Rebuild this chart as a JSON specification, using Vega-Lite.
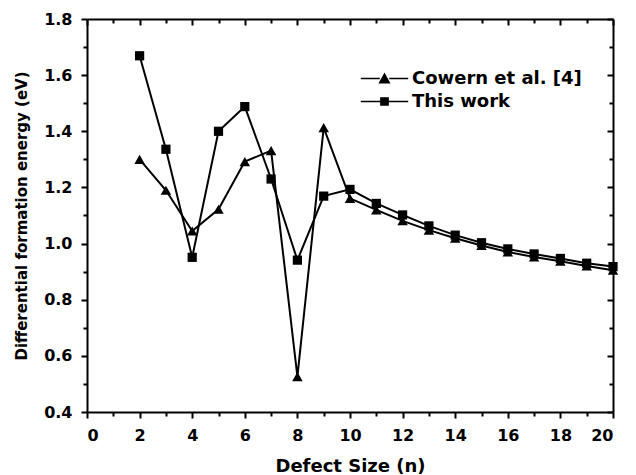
{
  "$schema": "https://vega.github.io/schema/vega-lite/v6.json",
  "autosize": "none",
  "width": 526,
  "height": 393,
  "padding": {"left": 87, "top": 19, "right": 23, "bottom": 63},
  "background": "white",
  "config": {
    "view": {"stroke": null},
    "font": "DejaVu Sans",
    "axis": {
      "domainColor": "black", "domainWidth": 2, "tickColor": "black", "tickWidth": 2, "grid": false,
      "labelFont": "DejaVu Sans", "labelFontWeight": "bold", "labelFontSize": 16, "labelColor": "black",
      "titleFont": "DejaVu Sans", "titleFontWeight": "bold", "titleFontSize": 18, "titleColor": "black"
    }
  },
  "data": {"values": [
    {"series": "Cowern et al. [4]", "n": 2, "energy": 1.30},
    {"series": "Cowern et al. [4]", "n": 3, "energy": 1.19},
    {"series": "Cowern et al. [4]", "n": 4, "energy": 1.045},
    {"series": "Cowern et al. [4]", "n": 5, "energy": 1.122},
    {"series": "Cowern et al. [4]", "n": 6, "energy": 1.292},
    {"series": "Cowern et al. [4]", "n": 7, "energy": 1.331},
    {"series": "Cowern et al. [4]", "n": 8, "energy": 0.526},
    {"series": "Cowern et al. [4]", "n": 9, "energy": 1.413},
    {"series": "Cowern et al. [4]", "n": 10, "energy": 1.161},
    {"series": "Cowern et al. [4]", "n": 11, "energy": 1.12},
    {"series": "Cowern et al. [4]", "n": 12, "energy": 1.081},
    {"series": "Cowern et al. [4]", "n": 13, "energy": 1.048},
    {"series": "Cowern et al. [4]", "n": 14, "energy": 1.019},
    {"series": "Cowern et al. [4]", "n": 15, "energy": 0.993},
    {"series": "Cowern et al. [4]", "n": 16, "energy": 0.970},
    {"series": "Cowern et al. [4]", "n": 17, "energy": 0.952},
    {"series": "Cowern et al. [4]", "n": 18, "energy": 0.937},
    {"series": "Cowern et al. [4]", "n": 19, "energy": 0.920},
    {"series": "Cowern et al. [4]", "n": 20, "energy": 0.905},
    {"series": "This work", "n": 2, "energy": 1.669},
    {"series": "This work", "n": 3, "energy": 1.336},
    {"series": "This work", "n": 4, "energy": 0.951},
    {"series": "This work", "n": 5, "energy": 1.40},
    {"series": "This work", "n": 6, "energy": 1.488},
    {"series": "This work", "n": 7, "energy": 1.23},
    {"series": "This work", "n": 8, "energy": 0.941},
    {"series": "This work", "n": 9, "energy": 1.169},
    {"series": "This work", "n": 10, "energy": 1.193},
    {"series": "This work", "n": 11, "energy": 1.143},
    {"series": "This work", "n": 12, "energy": 1.102},
    {"series": "This work", "n": 13, "energy": 1.063},
    {"series": "This work", "n": 14, "energy": 1.030},
    {"series": "This work", "n": 15, "energy": 1.003},
    {"series": "This work", "n": 16, "energy": 0.981},
    {"series": "This work", "n": 17, "energy": 0.963},
    {"series": "This work", "n": 18, "energy": 0.947},
    {"series": "This work", "n": 19, "energy": 0.930},
    {"series": "This work", "n": 20, "energy": 0.918}
  ]},
  "layer": [
    {
      "mark": {"type": "line", "color": "black", "strokeWidth": 2},
      "encoding": {
        "x": {"field": "n", "type": "quantitative", "scale": {"domain": [0, 20], "nice": false},
          "axis": {"orient": "bottom", "title": "Defect Size (n)", "titlePadding": 14,
            "values": [0,1,2,3,4,5,6,7,8,9,10,11,12,13,14,15,16,17,18,19,20],
            "labelExpr": "datum.value % 2 === 0 ? datum.label : ''",
            "tickSize": {"condition": {"test": "datum.value % 2 === 0", "value": 6}, "value": 4},
            "labelPadding": 9}},
        "y": {"field": "energy", "type": "quantitative", "scale": {"domain": [0.4, 1.8], "nice": false, "zero": false},
          "axis": {"orient": "left", "title": "Differential formation energy (eV)", "titlePadding": 14, "titleFontSize": 15,
            "values": [0.4,0.5,0.6,0.7,0.8,0.9,1.0,1.1,1.2,1.3,1.4,1.5,1.6,1.7,1.8],
            "format": ".1f",
            "labelExpr": "round(datum.value*10) % 2 === 0 ? datum.label : ''",
            "tickSize": {"condition": {"test": "round(datum.value*10) % 2 === 0", "value": 6}, "value": 4},
            "labelPadding": 9}},
        "detail": {"field": "series", "type": "nominal"}
      }
    },
    {
      "mark": {"type": "point", "filled": true, "color": "black", "opacity": 1},
      "encoding": {
        "x": {"field": "n", "type": "quantitative",
          "axis": {"orient": "top", "title": null, "labels": false,
            "values": [0,1,2,3,4,5,6,7,8,9,10,11,12,13,14,15,16,17,18,19,20],
            "tickSize": {"condition": {"test": "datum.value % 2 === 0", "value": -6}, "value": -4}}},
        "y": {"field": "energy", "type": "quantitative",
          "axis": {"orient": "right", "title": null, "labels": false,
            "values": [0.4,0.5,0.6,0.7,0.8,0.9,1.0,1.1,1.2,1.3,1.4,1.5,1.6,1.7,1.8],
            "tickSize": {"condition": {"test": "round(datum.value*10) % 2 === 0", "value": -6}, "value": -4}}},
        "shape": {"field": "series", "type": "nominal",
          "scale": {"domain": ["Cowern et al. [4]", "This work"], "range": ["triangle-up", "square"]},
          "legend": null},
        "size": {"condition": {"test": "datum.series === 'This work'", "value": 85}, "value": 110}
      }
    },
    {
      "transform": [{"filter": "false"}],
      "mark": {"type": "point", "filled": false, "fill": "black", "stroke": "black", "strokeWidth": 2, "opacity": 1},
      "encoding": {
        "x": {"field": "n", "type": "quantitative", "axis": null},
        "y": {"field": "energy", "type": "quantitative", "axis": null},
        "shape": {"field": "series", "type": "nominal",
          "scale": {"domain": ["Cowern et al. [4]", "This work"],
            "range": ["M-2.5,0H-0.5M0.5,0H2.5M-0.5,0.44L0,-0.47L0.5,0.44Z", "M-2.5,0H-0.4M0.4,0H2.5M-0.38,-0.38H0.38V0.38H-0.38Z"]},
          "legend": {"orient": "none", "legendX": 287, "legendY": 49, "title": null, "padding": 0,
            "labelFont": "DejaVu Sans", "labelFontSize": 18, "labelFontWeight": "bold", "labelColor": "black", "labelLimit": 400,
            "symbolSize": 360, "labelOffset": 17, "rowPadding": 3,
            "symbolOpacity": 1,
            "encode": {"symbols": {"stroke": {"value": "black"}, "strokeWidth": {"value": 2}, "fill": {"value": "black"}, "opacity": {"value": 1}}}}}
      }
    }
  ],
  "resolve": {"axis": {"x": "independent", "y": "independent"}, "scale": {"shape": "independent"}}
}
